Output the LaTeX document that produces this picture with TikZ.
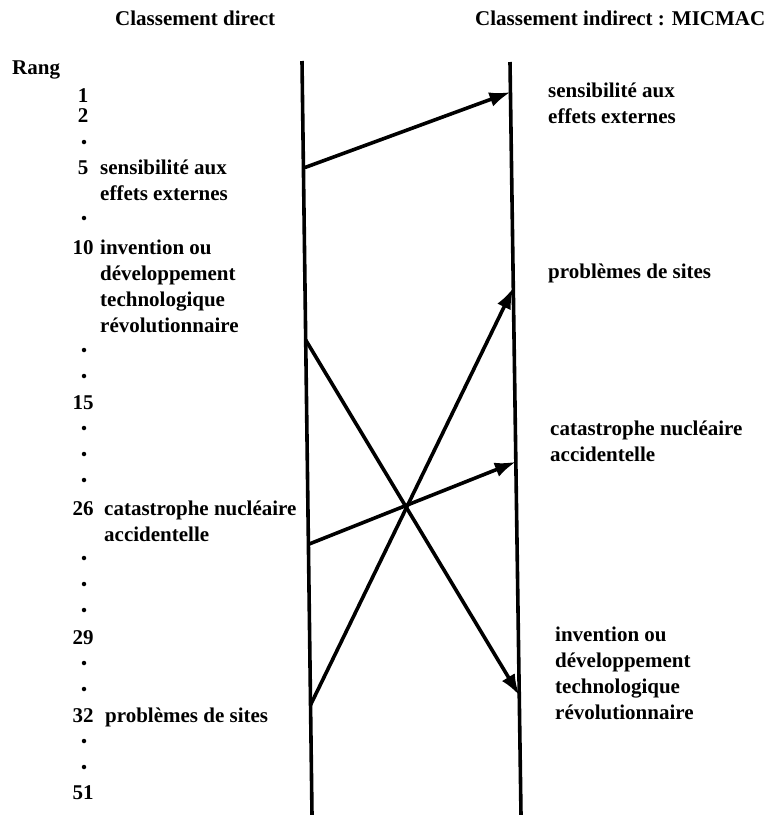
\documentclass[tikz,border=0pt]{standalone}
\usepackage{fontspec}
\setmainfont{Liberation Serif}
\usetikzlibrary{arrows.meta,positioning,calc}
\tikzset{
titre/.style={
    font=\bfseries\fontsize{21}{26}\selectfont,
    inner sep=0pt,
    anchor=base west
},
rangnum/.style={
    font=\bfseries\fontsize{21}{26}\selectfont,
    inner sep=0pt,
    anchor=base
},
rangpoint/.style={
    circle,
    fill=black,
    inner sep=0pt,
    minimum size=4.5pt
},
etiquette/.style={
    font=\bfseries\fontsize{21}{26}\selectfont,
    inner sep=0pt,
    align=left,
    anchor=base west
},
axe/.style={
    line width=3.6pt
},
lien/.style={
    line width=3.6pt,-{Latex[length=21pt,width=15pt]}
},
}

\begin{document}
\begin{tikzpicture}[x=1pt,y=-1pt]
\useasboundingbox (0,0) rectangle (776,815);
%
\node [titre] (tdirect) at (115,25) {Classement direct};
\node [titre] (tindirect) at (475,25) {Classement indirect : MICMAC};
\node [titre] (rang) at (12,74) {Rang};
%
\foreach \r/\y in {1/102,2/122,5/174,10/254,15/409,26/515,29/644,32/722,51/799}
    \node [rangnum] (r\r) at (83,\y) {\r};
\foreach \y [count=\i] in {142,218,350,376,428,454,480,558,584,610,663,689,741,767}
    \node [rangpoint] (p\i) at (84,\y) {};
%
\coordinate (gtop) at (302,61);
\coordinate (gbot) at (312,815);
\coordinate (dtop) at (510,62);
\coordinate (dbot) at (521,815);
\draw [axe] (gtop) -- (gbot);
\draw [axe] (dtop) -- (dbot);
%
% base = last line
\node [etiquette] (gsenstxt) at (100,200) {sensibilité aux\\effets externes};
\node [etiquette] (ginvtxt) at (100,332) {invention ou\\développement\\technologique\\révolutionnaire};
\node [etiquette] (gcattxt) at (104,541) {catastrophe nucléaire\\accidentelle};
\node [etiquette] (gprobtxt) at (105,722) {problèmes de sites};
%
\node [etiquette] (dsenstxt) at (548,123) {sensibilité aux\\effets externes};
\node [etiquette] (dprobtxt) at (548,278) {problèmes de sites};
\node [etiquette] (dcattxt) at (550,461) {catastrophe nucléaire\\accidentelle};
\node [etiquette] (dinvtxt) at (555,719) {invention ou\\développement\\technologique\\révolutionnaire};
%
\coordinate (gsens) at ($ (gtop)!0.142!(gbot) $);
\coordinate (ginv) at ($ (gtop)!0.370!(gbot) $);
\coordinate (gcat) at ($ (gtop)!0.641!(gbot) $);
\coordinate (gprob) at ($ (gtop)!0.854!(gbot) $);
\coordinate (dsens) at ($ (dtop)!0.040!(dbot) $);
\coordinate (dprob) at ($ (dtop)!0.300!(dbot) $);
\coordinate (dcat) at ($ (dtop)!0.531!(dbot) $);
\coordinate (dinv) at ($ (dtop)!0.841!(dbot) $);
%
\draw [lien] (gsens) -- (dsens);
\draw [lien] (ginv) -- (dinv);
\draw [lien] (gcat) -- (dcat);
\draw [lien] (gprob) -- (dprob);
%
\end{tikzpicture}
\end{document}
